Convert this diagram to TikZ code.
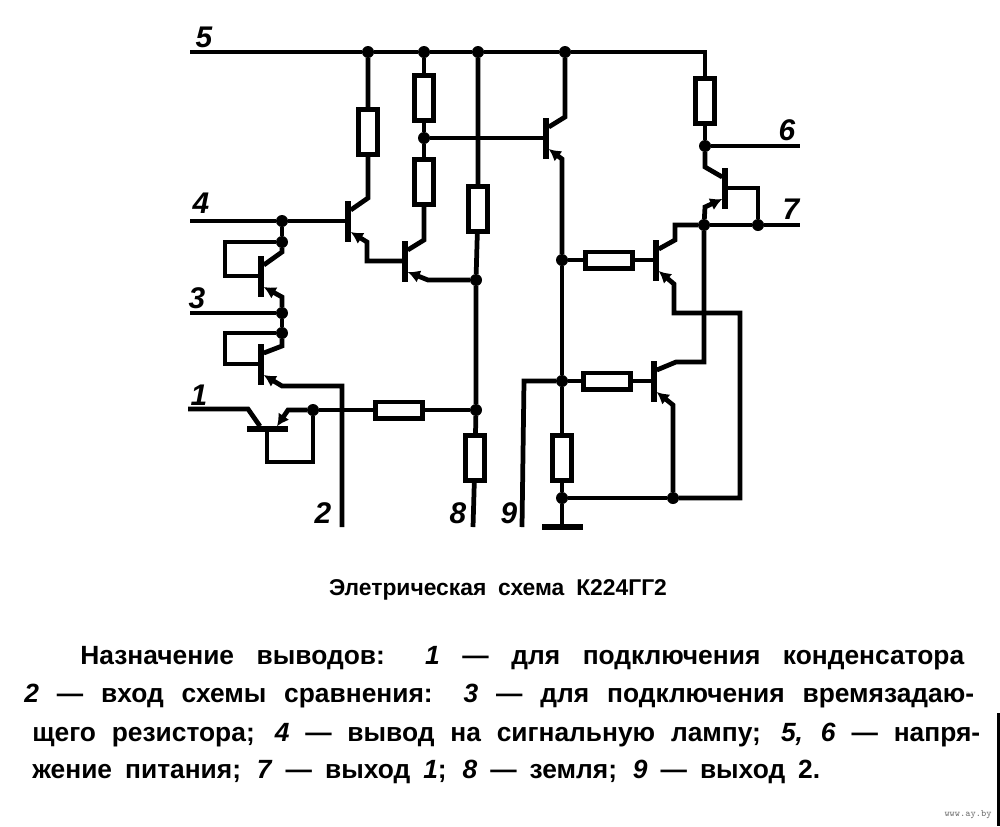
\documentclass[tikz,border=0pt]{standalone}
\usepackage{fontspec}
\setmainfont{Liberation Sans}
\usetikzlibrary{arrows.meta}

\begin{document}
\begin{tikzpicture}[x = 0.02cm, y = -0.02cm, line width = 2.7pt,
								res/.style = {rectangle, draw, fill = white, inner sep = 0pt, outer sep = 0pt},
								resv/.style = {res, minimum width = 0.37cm, minimum height = 0.9cm},
								resh/.style = {res, minimum width = 0.945cm, minimum height = 0.325cm},
								vbar/.style = {rectangle, fill = black, inner sep = 0pt, outer sep = 0pt, minimum width = 0.11cm, minimum height = 0.82cm},
								hbar/.style = {rectangle, fill = black, inner sep = 0pt, outer sep = 0pt, minimum width = 0.82cm, minimum height = 0.11cm},
								dot/.style = {circle, fill = black, inner sep = 0pt, outer sep = 0pt, minimum size = 0.24cm},
								emit/.style = {{Latex[length = 0.24cm, width = 0.26cm]}-},
								pin/.style = {font = \fontsize{17}{17}\selectfont\bfseries\itshape, inner sep = 0pt},
								txt/.style = {anchor = base west, inner sep = 0pt, font = \fontsize{15}{15}\selectfont\bfseries}]

				\useasboundingbox (0,0) rectangle (1000,826);

				\node [vbar] (t_1) at (348,221) {};
				\node [vbar] (t_2) at (405,261) {};
				\node [vbar] (t_3) at (261,276) {};
				\node [vbar] (t_4) at (261,364) {};
				\node [hbar] (t_5) at (267,429) {};
				\node [vbar] (t_6) at (546,138) {};
				\node [vbar] (t_7) at (656,260) {};
				\node [vbar] (t_8) at (654,381) {};
				\node [vbar] (t_9) at (725,188) {};

				\node [resv] (r_1) at (368,132) {};
				\node [resv] (r_2) at (424,98) {};
				\node [resv] (r_3) at (424,182) {};
				\node [resv] (r_4) at (478,209) {};
				\node [resv] (r_5) at (475,458) {};
				\node [resv] (r_6) at (562,458) {};
				\node [resv] (r_7) at (705,101) {};
				\node [resh] (r_8) at (399,410) {};
				\node [resh] (r_9) at (609,260) {};
				\node [resh] (r_10) at (607,381) {};

				\node [dot] (j_1) at (368,52) {};
				\node [dot] (j_2) at (424,52) {};
				\node [dot] (j_3) at (478,52) {};
				\node [dot] (j_4) at (565,52) {};
				\node [dot] (j_5) at (424,138) {};
				\node [dot] (j_6) at (476,280) {};
				\node [dot] (j_7) at (476,410) {};
				\node [dot] (j_8) at (562,260) {};
				\node [dot] (j_9) at (562,381) {};
				\node [dot] (j_10) at (562,498) {};
				\node [dot] (j_11) at (673,498) {};
				\node [dot] (j_12) at (705,146) {};
				\node [dot] (j_13) at (704,225) {};
				\node [dot] (j_14) at (758,225) {};
				\node [dot] (j_15) at (282,221) {};
				\node [dot] (j_16) at (282,242) {};
				\node [dot] (j_17) at (282,313) {};
				\node [dot] (j_18) at (282,333) {};
				\node [dot] (j_19) at (313,410) {};

				\coordinate (p_1) at (188,409);
				\coordinate (p_2) at (342,527);
				\coordinate (p_3) at (190,313);
				\coordinate (p_4) at (190,221);
				\coordinate (p_5) at (190,52);
				\coordinate (p_6) at (800,146);
				\coordinate (p_7) at (800,225);
				\coordinate (p_8) at (473,527);
				\coordinate (p_9) at (522,527);
				\node [hbar] (g_1) at (562,527) {};

				\coordinate (b_1) at (225,276);
				\coordinate (b_2) at (225,364);
				\coordinate (b_3) at (267,462);

				\coordinate (c_1) at (282,252);
				\coordinate (c_2) at (282,297);
				\coordinate (c_3) at (282,346);
				\coordinate (c_4) at (282,386);
				\coordinate (c_5) at (248,409);
				\coordinate (c_6) at (288,410);
				\coordinate (c_7) at (368,198);
				\coordinate (c_8) at (367,242);
				\coordinate (c_9) at (424,240);
				\coordinate (c_10) at (428,280);
				\coordinate (c_11) at (565,117);
				\coordinate (c_12) at (562,159);
				\coordinate (c_13) at (675,240);
				\coordinate (c_14) at (675,225);
				\coordinate (c_15) at (674,284);
				\coordinate (c_16) at (740,313);
				\coordinate (c_17) at (705,167);
				\coordinate (c_18) at (705,207);
				\coordinate (c_19) at (676,362);
				\coordinate (c_20) at (673,405);
				\coordinate (c_21) at (524,381);

				\draw (p_5) -- (j_1) -- (j_2) -- (j_3) -- (j_4) -| (r_7);
				\draw (r_7) -- (j_12) -- (p_6);
				\draw (j_1) -- (r_1) -- (c_7) -- ([yshift=0.22cm]t_1.east);
				\draw (j_2) -- (r_2) -- (j_5) -- (r_3);
				\draw (j_5) -- (t_6);
				\draw (j_3) -- (r_4) -- (j_6) -- (j_7) -- (r_5) -- (p_8);

				\draw (p_4) -- (j_15) -- (t_1);
				\draw [emit] ([yshift=-0.22cm]t_1.east) -- (c_8) |- (t_2);
				\draw (r_3) -- (c_9) -- ([yshift=0.22cm]t_2.east);
				\draw [emit] ([yshift=-0.22cm]t_2.east) -- (c_10) -- (j_6);

				\draw (j_15) -- (j_16) -| (b_1) -- (t_3);
				\draw (j_16) -- (c_1) -- ([yshift=0.22cm]t_3.east);
				\draw [emit] ([yshift=-0.22cm]t_3.east) -- (c_2) -- (j_17);
				\draw (p_3) -- (j_17) -- (j_18);
				\draw (j_18) -| (b_2) -- (t_4);
				\draw (j_18) -- (c_3) -- ([yshift=0.22cm]t_4.east);
				\draw [emit] ([yshift=-0.22cm]t_4.east) -- (c_4) -| (p_2);

				\draw (p_1) -- (c_5) -- ([xshift=-0.14cm]t_5.north);
				\draw (t_5) -- (b_3) -| (j_19);
				\draw [emit] ([xshift=0.2cm]t_5.north) -- (c_6) -- (j_19);
				\draw (j_19) -- (r_8) -- (j_7);

				\draw (j_4) -- (c_11) -- ([yshift=0.22cm]t_6.east);
				\draw [emit] ([yshift=-0.22cm]t_6.east) -- (c_12) -- (j_8);
				\draw (j_8) -- (j_9) -- (r_6) -- (j_10) -- (g_1);
				\draw (j_8) -- (r_9) -- (t_7);
				\draw ([yshift=0.22cm]t_7.east) -- (c_13) -- (c_14) -- (j_13);
				\draw [emit] ([yshift=-0.22cm]t_7.east) -- (c_15) |- (c_16) |- (j_11);
				\draw (j_10) -- (j_11);

				\draw (j_12) -- (c_17) -- ([yshift=0.22cm]t_9.west);
				\draw [emit] ([yshift=-0.22cm]t_9.west) -- (c_18) -- (j_13);
				\draw (t_9) -| (j_14);
				\draw (j_13) -- (j_14) -- (p_7);

				\draw (j_13) |- (c_19) -- ([yshift=0.22cm]t_8.east);
				\draw [emit] ([yshift=-0.22cm]t_8.east) -- (c_20) -- (j_11);
				\draw (j_9) -- (r_10) -- (t_8);
				\draw (j_9) -- (c_21) -- (p_9);

				\node [pin] (l_5) at (204,37) {5};
				\node [pin] (l_4) at (201,203) {4};
				\node [pin] (l_3) at (197,298) {3};
				\node [pin] (l_1) at (199,395) {1};
				\node [pin] (l_2) at (323,513) {2};
				\node [pin] (l_8) at (458,513) {8};
				\node [pin] (l_9) at (509,513) {9};
				\node [pin] (l_6) at (787,130) {6};
				\node [pin] (l_7) at (791,209) {7};

				\node [font = \fontsize{13}{14}\selectfont\bfseries, inner sep = 0pt] (caption) at (498,590)
				{\makebox[6.76cm][s]{Элетрическая схема К224ГГ2}};

				\node [txt] (line_1) at (78,664)
				{\makebox[17.68cm][s]{Назначение выводов: \textit{1} — для подключения конденсатора}};
				\node [txt] (line_2) at (22,702)
				{\makebox[19cm][s]{\textit{2} — вход схемы сравнения: \textit{3} — для подключения времязадаю-}};
				\node [txt] (line_3) at (30,741)
				{\makebox[18.96cm][s]{щего резистора; \textit{4} — вывод на сигнальную лампу; \textit{5, 6} — напря-}};
				\node [txt] (line_4) at (30,778)
				{\makebox[15.76cm][s]{жение питания; \textit{7} — выход \textit{1}; \textit{8} — земля; \textit{9} — выход 2.}};

				\node [font = \fontsize{5.6}{6}\selectfont\ttfamily, text = black!55, inner sep = 0pt] (mark) at (968,815) {www.ay.by};

				\coordinate (e_1) at (998.5,713);
				\coordinate (e_2) at (998.5,826);
				\draw [line width = 1.6pt] (e_1) -- (e_2);
			\end{tikzpicture}
\end{document}
